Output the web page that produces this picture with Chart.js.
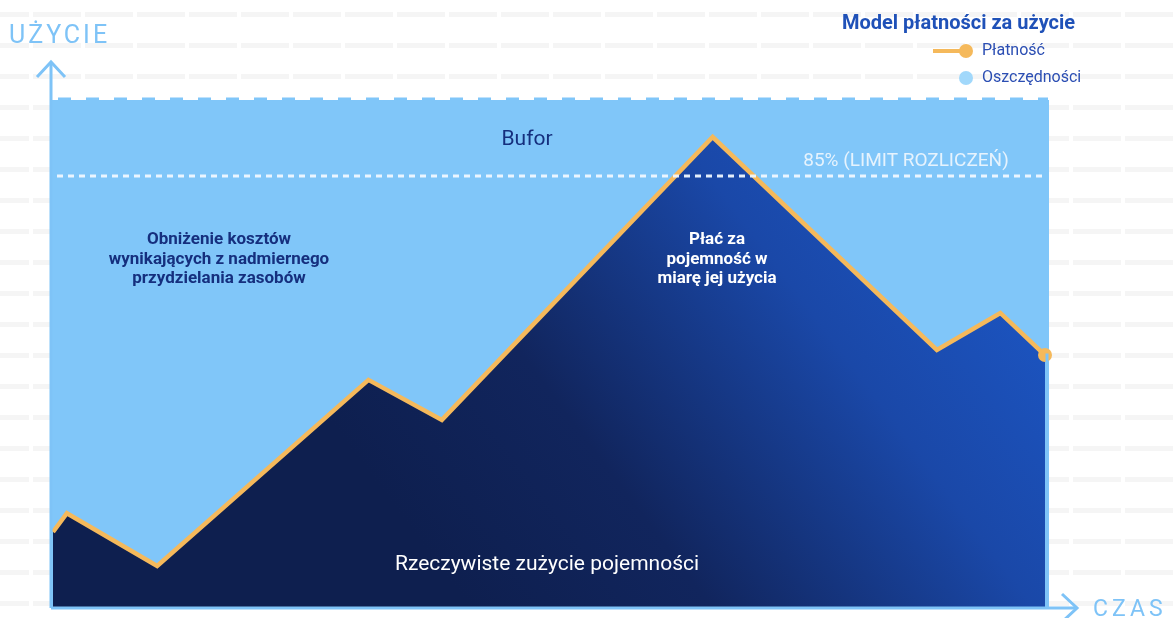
<!DOCTYPE html>
<html>
<head>
<meta charset="utf-8">
<script src="https://cdn.jsdelivr.net/npm/chart.js@4.4.0/dist/chart.umd.min.js"></script>
<style>
  html, body { margin: 0; padding: 0; background: #fff; }
  #wrap { width: 1174px; height: 618px; position: relative; }
</style>
</head>
<body>
<div id="wrap"><canvas id="usageChart" width="1174" height="618"></canvas></div>
<script>
// time along the x axis (0..100) and usage in % of capacity
var timePoints = [0, 1.4, 10.5, 31.8, 39.2, 66.5, 89.1, 95.5, 100];
var usage = [14.8, 18.5, 8.1, 44.8, 36.9, 92.7, 50.7, 58.0, 49.7];
var billingLimit = 85;
var seriesLabels = ["Płatność", "Oszczędności"];
var legendTitle = "Model płatności za użycie";
var axisTitles = { y: "UŻYCIE", x: "CZAS" };

var skyBlue = "#80c6f9";
var axisBlue = "#7ec3f7";
var orange = "#f5b95b";
var navyText = "#152f7e";

var points = timePoints.map(function (t, i) { return { x: t, y: usage[i] }; });

var decor = {
  id: 'decor',
  beforeDraw: function (chart) {
    var c = chart.ctx;
    c.save();
    c.fillStyle = "#f5f5f5";
    for (var y = 12; y < 618; y += 31) {
      for (var x = -19; x < 1174; x += 52) {
        c.fillRect(x, y, 48, 5);
      }
    }
    c.restore();
  },
  beforeDatasetsDraw: function (chart) {
    var c = chart.ctx, a = chart.chartArea;
    var ys = chart.scales.y;
    var top = ys.getPixelForValue(100), bottom = ys.getPixelForValue(0);
    c.save();
    c.fillStyle = skyBlue;
    c.fillRect(a.left - 3, top, a.right - a.left + 7, bottom - top);
    // dashed top edge
    c.strokeStyle = skyBlue;
    c.lineWidth = 3;
    c.setLineDash([13, 15]);
    c.beginPath();
    c.moveTo(a.left + 5, top - 1);
    c.lineTo(a.right + 3, top - 1);
    c.stroke();
    c.restore();
  },
  afterDatasetsDraw: function (chart) {
    var c = chart.ctx, a = chart.chartArea;
    var ys = chart.scales.y;
    var ly = ys.getPixelForValue(billingLimit);
    c.save();
    // billing limit line
    c.strokeStyle = "rgba(240,248,255,0.95)";
    c.lineWidth = 3;
    c.setLineDash([6, 5]);
    c.beginPath();
    c.moveTo(a.left + 4, ly);
    c.lineTo(a.right, ly);
    c.stroke();
    c.setLineDash([]);

    c.textAlign = "center";
    c.textBaseline = "middle";
    c.fillStyle = "#e6f3fd";
    c.font = "19px Roboto";
    c.fillText(billingLimit + "% (LIMIT ROZLICZEŃ)", 906, ly - 15);

    c.fillStyle = navyText;
    c.font = "21px Roboto";
    c.fillText("Bufor", 527, 140);

    c.font = "bold 17px Roboto";
    ["Obniżenie kosztów", "wynikających z nadmiernego", "przydzielania zasobów"].forEach(function (t, i) {
      c.fillText(t, 219, 240 + i * 19.5);
    });

    c.fillStyle = "#ffffff";
    ["Płać za", "pojemność w", "miarę jej użycia"].forEach(function (t, i) {
      c.fillText(t, 717, 240 + i * 19.5);
    });

    c.font = "21px Roboto";
    c.fillText("Rzeczywiste zużycie pojemności", 547, 565);
    c.restore();
  },
  afterDraw: function (chart) {
    var c = chart.ctx, a = chart.chartArea;
    var ys = chart.scales.y;
    var bottom = ys.getPixelForValue(0) + 1;
    var left = a.left - 2;
    c.save();
    c.strokeStyle = axisBlue;
    c.lineWidth = 3;
    c.lineCap = "butt";
    // y axis with arrow
    c.beginPath();
    c.moveTo(left, bottom);
    c.lineTo(left, 62);
    c.stroke();
    c.beginPath();
    c.moveTo(left - 14, 77);
    c.lineTo(left, 62);
    c.lineTo(left + 14, 77);
    c.stroke();
    // x axis with arrow
    c.beginPath();
    c.moveTo(left, bottom);
    c.lineTo(1076, bottom);
    c.stroke();
    c.beginPath();
    c.moveTo(1062, bottom - 14);
    c.lineTo(1077, bottom);
    c.lineTo(1062, bottom + 14);
    c.stroke();
    // right edge of savings band
    c.beginPath();
    c.moveTo(a.right + 2, ys.getPixelForValue(50));
    c.lineTo(a.right + 2, bottom);
    c.stroke();

    c.fillStyle = axisBlue;
    c.textBaseline = "alphabetic";
    c.textAlign = "left";
    c.font = "25px Roboto";
    c.letterSpacing = "3px";
    c.fillText(axisTitles.y, 9, 43);
    c.font = "23px Roboto";
    c.letterSpacing = "4px";
    c.fillText(axisTitles.x, 1093, 616);
    c.letterSpacing = "0px";

    // legend
    c.fillStyle = "#1f51b8";
    c.font = "bold 20px Roboto";
    c.fillText(legendTitle, 842, 29);
    c.strokeStyle = orange;
    c.lineWidth = 4;
    c.beginPath();
    c.moveTo(933, 51);
    c.lineTo(963, 51);
    c.stroke();
    c.fillStyle = orange;
    c.beginPath();
    c.arc(966, 51, 7, 0, Math.PI * 2);
    c.fill();
    c.fillStyle = "#a1d8fb";
    c.beginPath();
    c.arc(966, 78, 7, 0, Math.PI * 2);
    c.fill();
    c.fillStyle = "#2b4eb3";
    c.font = "16px Roboto";
    c.textBaseline = "middle";
    c.fillText(seriesLabels[0], 982, 51);
    c.fillText(seriesLabels[1], 982, 78);
    c.restore();
  }
};

var ctx = document.getElementById("usageChart").getContext('2d');
var usageChart = new Chart(ctx, {
  type: 'line',
  data: {
    datasets: [{
      label: seriesLabels[0],
      data: points,
      fill: 'origin',
      clip: false,
      tension: 0,
      borderColor: orange,
      borderWidth: 4.5,
      borderJoinStyle: 'miter',
      backgroundColor: function (context) {
        var a = context.chart.chartArea;
        if (!a) return "#10235a";
        var g = context.chart.ctx.createLinearGradient(a.left + (a.right - a.left) * 0.42, a.bottom, a.right - 60, a.top + 120);
        g.addColorStop(0, "#0e1f4f");
        g.addColorStop(0.3, "#11255d");
        g.addColorStop(0.7, "#1a48a8");
        g.addColorStop(1, "#1c55c2");
        return g;
      },
      pointRadius: function (c) { return c.dataIndex === usage.length - 1 ? 7 : 0; },
      pointHoverRadius: 0,
      pointBackgroundColor: orange,
      pointBorderWidth: 0
    }]
  },
  options: {
    responsive: false,
    animation: false,
    layout: { padding: { left: 53, right: 129, top: 100, bottom: 11 } },
    plugins: { legend: { display: false }, tooltip: { enabled: false } },
    scales: {
      x: { type: 'linear', min: 0, max: 100, display: false },
      y: { min: 0, max: 100, display: false }
    }
  },
  plugins: [decor]
});
</script>
</body>
</html>
